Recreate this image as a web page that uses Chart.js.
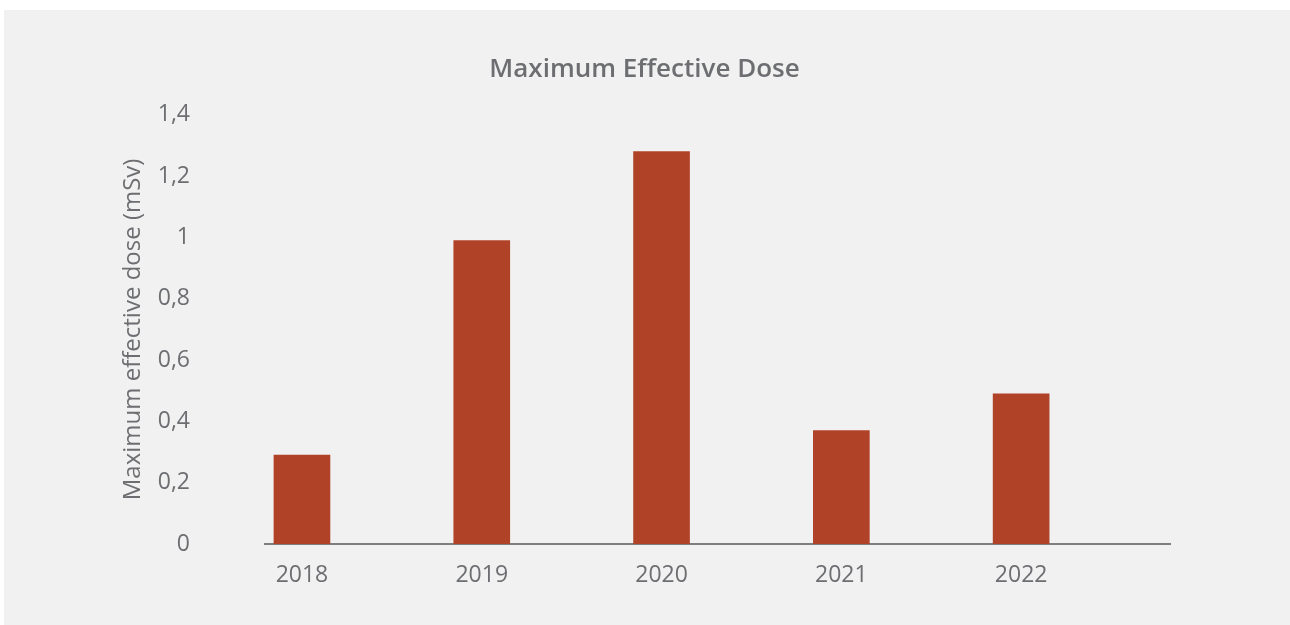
<!DOCTYPE html>
<html>
<head>
<meta charset="utf-8">
<script src="https://cdn.jsdelivr.net/npm/chart.js@4"></script>
<style>
  html, body { margin: 0; padding: 0; background: #ffffff; }
  .panel {
    position: absolute;
    left: 4px;
    top: 10px;
    width: 1286px;
    height: 615px;
    background: #f1f1f1;
  }
  canvas { display: block; }
</style>
</head>
<body>
<div class="panel">
  <canvas id="doseChart" width="1286" height="615"></canvas>
</div>
<script>
const years = ["2018", "2019", "2020", "2021", "2022"];
const maxDose = [0.29, 0.99, 1.28, 0.37, 0.49];
const yTicks = [0, 0.2, 0.4, 0.6, 0.8, 1, 1.2, 1.4];

const textColor = "#6d6e71";
const fontFamily = "'Open Sans', Lato, sans-serif";

const points = years.map((year, i) => ({ x: i, y: maxDose[i] }));

new Chart(document.getElementById("doseChart"), {
  type: "bar",
  data: {
    datasets: [
      {
        label: "Maximum effective dose",
        data: points,
        backgroundColor: "#b04327",
        barThickness: 56,
      },
    ],
  },
  options: {
    responsive: false,
    animation: false,
    layout: {
      padding: { left: 115, right: 120, top: 0, bottom: 0 },
    },
    plugins: {
      legend: { display: false },
      tooltip: { enabled: false },
      title: {
        display: true,
        text: "Maximum Effective Dose",
        color: textColor,
        font: { family: fontFamily, size: 26, weight: "600", lineHeight: 1.2 },
        padding: { top: 44.4, bottom: 29.2 },
      },
    },
    scales: {
      x: {
        type: "linear",
        offset: false,
        min: -0.2056,
        max: 4.828,
        grid: { display: false, drawTicks: false },
        border: { display: true, color: "#7f7f80", width: 2 },
        ticks: {
          stepSize: 1,
          includeBounds: false,
          maxRotation: 0,
          autoSkip: false,
          padding: 18,
          color: textColor,
          font: { family: fontFamily, size: 23 },
          callback: (value) => years[value] ?? "",
        },
        afterFit: (scale) => {
          scale.height = 81;
        },
      },
      y: {
        min: 0,
        max: 1.4,
        grid: { display: false, drawTicks: false },
        border: { display: false },
        afterBuildTicks: (scale) => {
          scale.ticks = yTicks.map((v) => ({ value: v }));
        },
        ticks: {
          padding: 75,
          color: textColor,
          font: { family: fontFamily, size: 23 },
          callback: (value) => String(Math.round(value * 10) / 10).replace(".", ","),
        },
        title: {
          display: true,
          text: "Maximum effective dose (mSv)",
          color: textColor,
          font: { family: fontFamily, size: 24, lineHeight: 1.2 },
          padding: 0,
        },
        afterFit: (scale) => {
          // tick padding is large here, keep it from eating the plot height
          scale.width = 146;
          scale.paddingTop = 0;
          scale.paddingBottom = 0;
        },
      },
    },
  },
});
</script>
</body>
</html>
